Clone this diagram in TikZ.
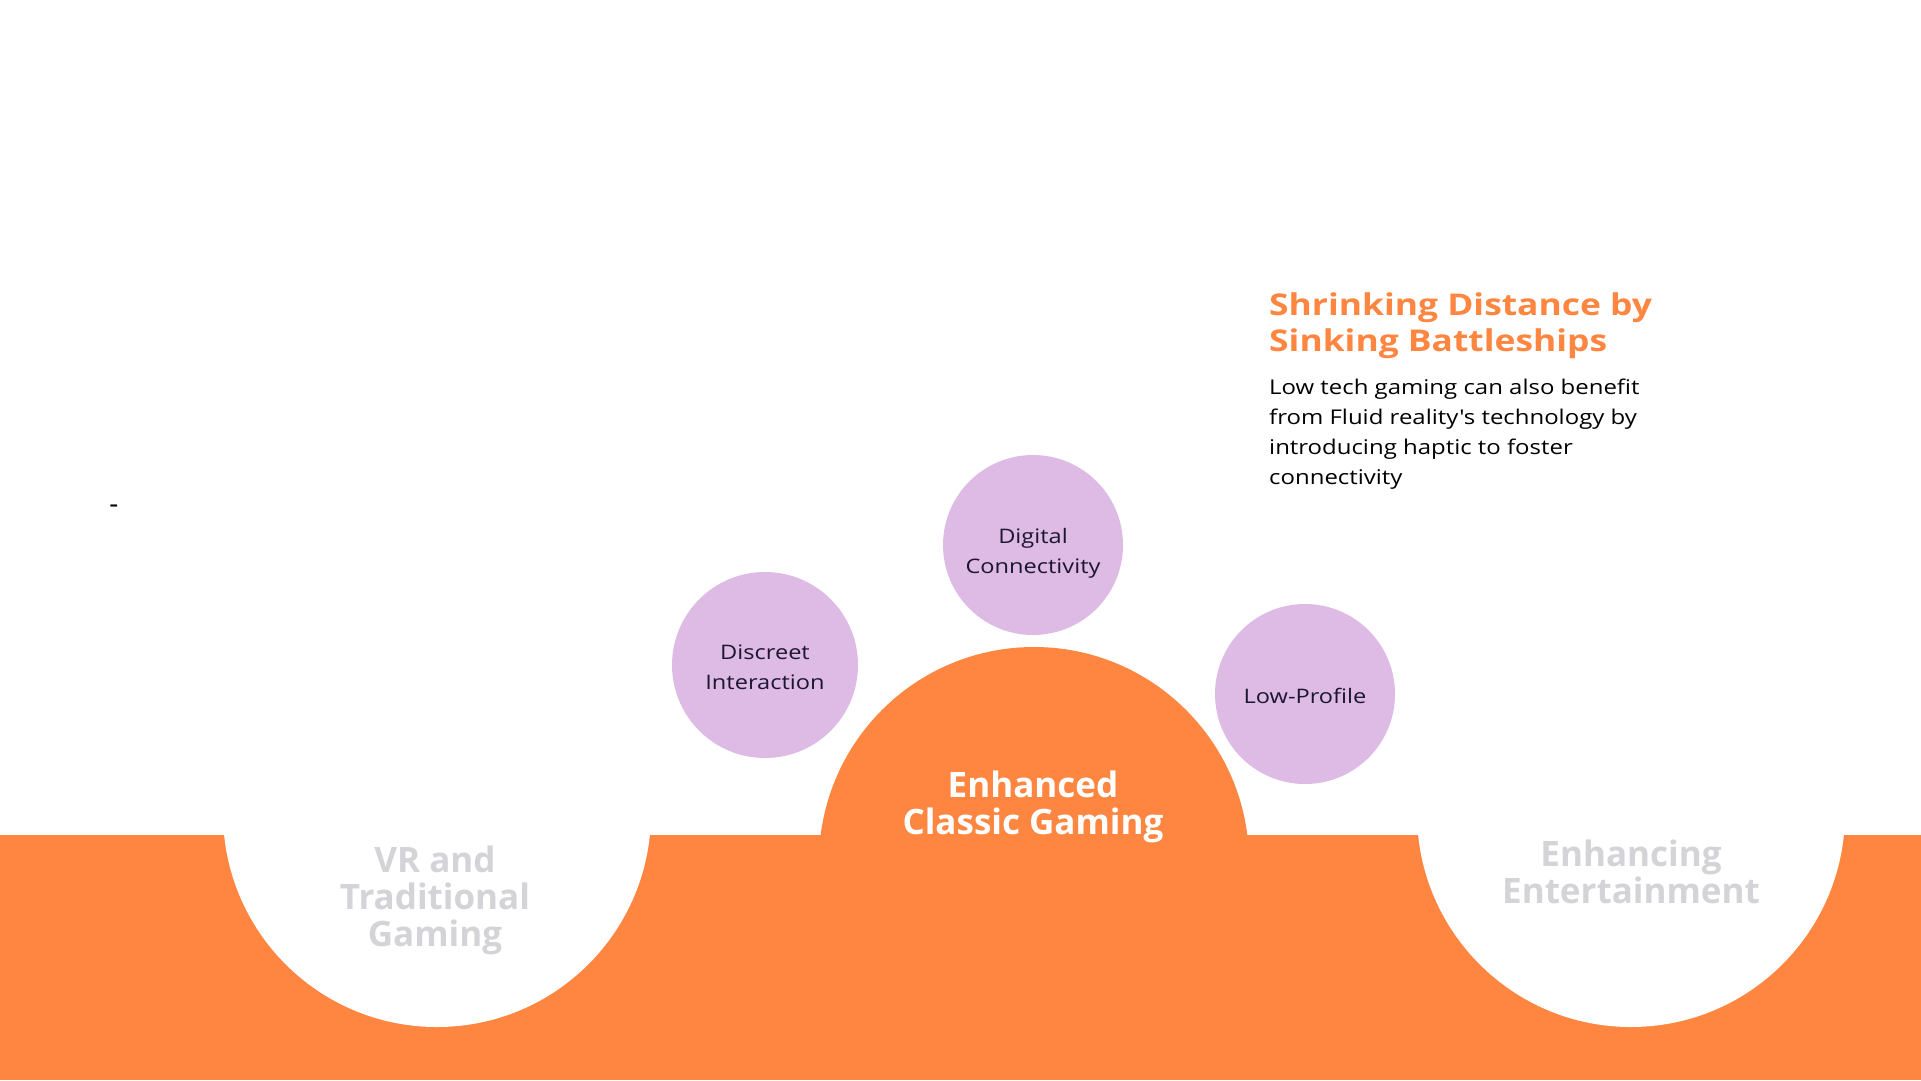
\documentclass[tikz,border=0pt]{standalone}
\usepackage{fontspec}
\setmainfont{Open Sans}
\newfontfamily\widesans{Open Sans}[FakeStretch=1.18]
\usetikzlibrary{positioning}
\definecolor{brandorange}{RGB}{255,134,64}
\definecolor{lilac}{RGB}{221,187,229}
\definecolor{mutedgray}{RGB}{212,212,216}
\definecolor{inkblue}{RGB}{28,22,48}

\begin{document}
\begin{tikzpicture}[
  x=1pt, y=-1pt,
  hole/.style={circle, fill=white, minimum size=428pt, inner sep=0pt},
  hub/.style={circle, fill=brandorange, minimum size=430pt, inner sep=0pt},
  bubble/.style={circle, fill=lilac, minimum size=180pt, inner sep=0pt},
  tag/.style={align=center, inner sep=0pt, yshift=-2pt,
              font=\widesans\fontsize{20}{30}\selectfont, text=inkblue},
  stage/.style={align=center, inner sep=0pt, font=\fontsize{35}{37}\selectfont\bfseries,
                text=mutedgray},
  heading/.style={align=left, anchor=north west, inner sep=0pt,
                  font=\widesans\fontsize{30}{36}\selectfont\bfseries, text=brandorange},
  body/.style={align=left, anchor=north west, inner sep=0pt,
               font=\widesans\fontsize{20.3}{30}\selectfont, text=black}
]
\useasboundingbox (0,0) rectangle (1921,1080);
% orange ground
\fill[brandorange] (0,835) rectangle (1921,1080);
\node[hole] (left) at (437,813) {};
\node[hole] (right) at (1631,813) {};
\node[hub] (center) at (1034,862) {};
% feature bubbles
\node[bubble, label={[tag, yshift=-6pt]center:Digital\\Connectivity}] (digital) at (1033,545) {};
\node[bubble, minimum size=186pt, label={[tag]center:Discreet\\Interaction}] (discreet) at (765,665) {};
\node[bubble, label={[tag]center:Low-Profile}] (lowprofile) at (1305,694) {};
% stage labels
\node[stage] (vrlabel) at (435,900) {VR and\\Traditional\\Gaming};
\node[stage, text=white] (classic) at (1033,807) {Enhanced\\Classic Gaming};
\node[stage] (entlabel) at (1631,872) {Enhancing\\Entertainment};
% description
\node[heading] (title) at (1269,292) {Shrinking Distance by\\Sinking Battleships};
\node[body] (desc) at (1269,379) {Low tech gaming can also benefit\\from Fluid reality's technology by\\introducing haptic to foster\\connectivity};
\node[font=\fontsize{28}{30}\selectfont, inner sep=0pt] (dash) at (114,509) {-};
\end{tikzpicture}
\end{document}
